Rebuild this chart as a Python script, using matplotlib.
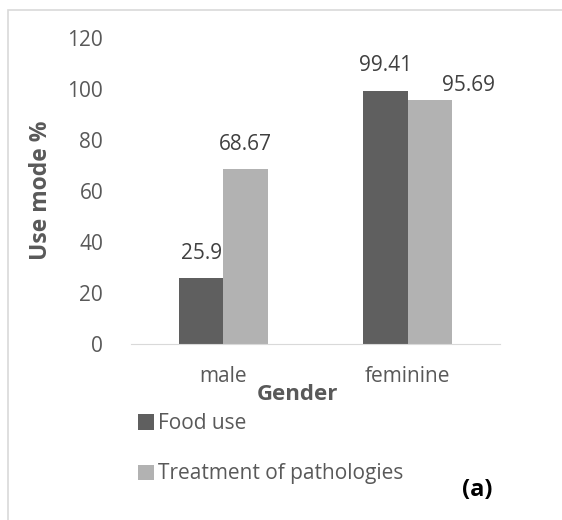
import matplotlib.pyplot as plt
import numpy as np
from matplotlib.patches import Rectangle

categories = ["male", "feminine"]
food_use = [25.9, 99.41]
treatment = [68.67, 95.69]
series_names = ["Food use", "Treatment of pathologies"]

dark = "#5f5f5f"
light = "#b2b2b2"
txt = "#595959"

plt.rcParams['font.family'] = ['Open Sans', 'DejaVu Sans']

fig = plt.figure(figsize=(5.62, 5.2), dpi=100)
W, H = 562, 520
# axes in pixel coords: x 131..500, y 38.5..344
ax = fig.add_axes([131 / W, 1 - 344 / H, (500 - 131) / W, (344 - 38.5) / H])

x = np.arange(len(categories))
w = 0.24
b1 = ax.bar(x - w / 2, food_use, w, color=dark, label=series_names[0])
b2 = ax.bar(x + w / 2, treatment, w, color=light, label=series_names[1])

# label offsets in points (last label nudged right like Excel does)
offs = [[(0, 18), (0, 18)], [(0, 18), (28, 11)]]
for k, (bars, vals) in enumerate(((b1, food_use), (b2, treatment))):
    for j, (r, v) in enumerate(zip(bars, vals)):
        ax.annotate(f"{v:g}", (r.get_x() + r.get_width() / 2, v), xytext=offs[k][j],
                    textcoords="offset points", ha="center", va="center",
                    fontsize=15, color="#404040")

ax.set_xlim(-0.5, 1.5)
ax.set_ylim(0, 120)
ax.set_yticks(range(0, 121, 20))
ax.set_xticks(x)
ax.set_xticklabels(categories)
ax.tick_params(axis="both", length=0, labelsize=15, colors=txt)
ax.tick_params(axis="y", pad=20)
ax.tick_params(axis="x", pad=16)
for s in ["top", "right", "left"]:
    ax.spines[s].set_visible(False)
ax.spines["bottom"].set_color("#d9d9d9")

fig.text(41 / W, 1 - 190 / H, "Use mode %", rotation=90, ha="center", va="center",
         fontsize=16.5, fontweight="bold", color=txt)
fig.text(297 / W, 1 - 395 / H, "Gender", ha="center", va="center",
         fontsize=16, fontweight="bold", color=txt)

fig.legend(handles=[b1, b2], labels=series_names, loc="upper left",
           bbox_to_anchor=(130 / W, 1 - 405 / H), frameon=False, fontsize=15,
           labelcolor=txt, handlelength=0.75, handleheight=0.75, handletextpad=0.2,
           labelspacing=1.4, borderaxespad=0)

fig.text(477 / W, 1 - 490 / H, "(a)", ha="center", va="center",
         fontsize=17, fontweight="bold", color="black")

fig.patches.append(Rectangle((7.5 / W, -0.01), 1.0, 1 - 9.5 / H + 0.01, transform=fig.transFigure,
                             fill=False, edgecolor="#d9d9d9", linewidth=1.2))

fig.savefig("out.png", dpi=100)
